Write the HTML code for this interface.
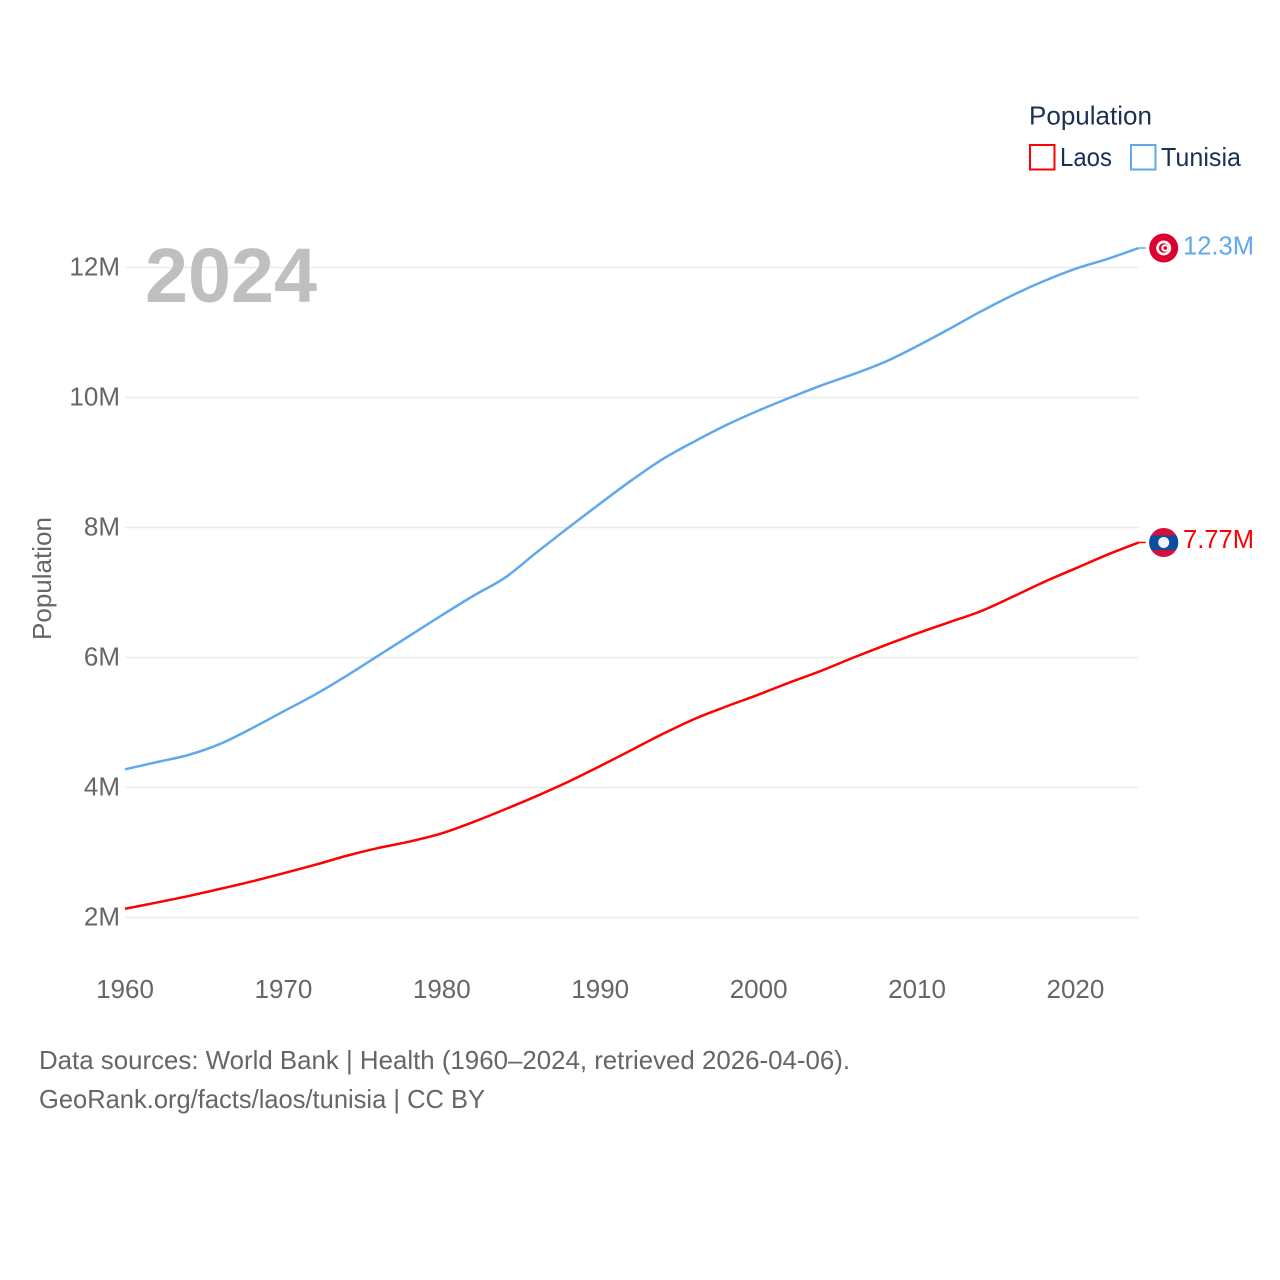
<!DOCTYPE html>
<html lang="en">
<head>
<meta charset="utf-8">
<title>Population: Laos and Tunisia</title>
<style>
  html, body { margin: 0; padding: 0; background: #ffffff; }
  svg { display: block; }
  text { font-family: "Liberation Sans", "DejaVu Sans", sans-serif; font-size: 26px; fill: #666666; }
  .legend-text { fill: #1b3154; }
</style>
</head>
<body>
<svg id="chart" xmlns="http://www.w3.org/2000/svg" width="1280" height="1280" viewBox="0 0 1280 1280">
  <rect x="0" y="0" width="1280" height="1280" fill="#ffffff"/>
  <g id="grid"></g>
  <g id="yticks"></g>
  <g id="xticks"></g>
  <text x="145" y="302" textLength="172" lengthAdjust="spacingAndGlyphs" style="font-size:77px;font-weight:bold;fill:#bfbfbf">2024</text>
  <text transform="translate(51,640) rotate(-90)" textLength="123" lengthAdjust="spacingAndGlyphs">Population</text>
  <g id="series"></g>
  <defs>
    <clipPath id="clip-la"><circle cx="0" cy="0" r="14.5"/></clipPath>
  </defs>
  <g id="flag-tunisia">
    <circle r="14.5" fill="#dc0030"/>
    <circle r="7.5" fill="#f4f4f4"/>
    <circle r="4.8" fill="#dc0030"/>
    <circle cx="1.3" r="3.8" fill="#f4f4f4"/>
    <circle cx="1.6" r="1.8" fill="#dc0030"/>
  </g>
  <g id="flag-laos">
    <g clip-path="url(#clip-la)">
      <rect x="-15" y="-15" width="30" height="30" fill="#d2103a"/>
      <rect x="-15" y="-7" width="30" height="14.5" fill="#0a4ea2"/>
    </g>
    <circle r="5.5" fill="#f2f2f2"/>
  </g>
  <g id="end-labels"></g>
  <g>
    <text class="legend-text" x="1029" y="124.5" textLength="123" lengthAdjust="spacingAndGlyphs">Population</text>
    <rect x="1030" y="145" width="24.5" height="24.5" fill="none" stroke="#ff0000" stroke-width="2"/>
    <text class="legend-text" x="1060" y="166" textLength="52" lengthAdjust="spacingAndGlyphs">Laos</text>
    <rect x="1131" y="145" width="24.5" height="24.5" fill="none" stroke="#5fa8ec" stroke-width="2"/>
    <text class="legend-text" x="1161" y="166" textLength="80" lengthAdjust="spacingAndGlyphs">Tunisia</text>
  </g>
  <text x="39" y="1069" textLength="811" lengthAdjust="spacingAndGlyphs">Data sources: World Bank | Health (1960–2024, retrieved 2026-04-06).</text>
  <text x="39" y="1108" textLength="446" lengthAdjust="spacingAndGlyphs">GeoRank.org/facts/laos/tunisia | CC BY</text>
</svg>
<script>
const years = [1960,1962,1964,1966,1968,1970,1972,1974,1976,1978,1980,1982,1984,1986,1988,1990,1992,1994,1996,1998,2000,2002,2004,2006,2008,2010,2012,2014,2016,2018,2020,2022,2024];
const tunisiaValues = [4.28,4.39,4.50,4.67,4.91,5.17,5.43,5.72,6.03,6.34,6.65,6.95,7.23,7.62,8.00,8.37,8.73,9.06,9.33,9.58,9.80,10.00,10.19,10.36,10.55,10.79,11.05,11.32,11.57,11.79,11.98,12.13,12.30];
const laosValues = [2.135,2.23,2.33,2.44,2.555,2.68,2.81,2.95,3.07,3.17,3.295,3.47,3.665,3.87,4.09,4.33,4.58,4.83,5.06,5.25,5.43,5.62,5.80,6.00,6.19,6.37,6.54,6.71,6.93,7.16,7.37,7.58,7.77];
const yTickValues = [2,4,6,8,10,12];
const yTickLabels = ['2M','4M','6M','8M','10M','12M'];
const xTickValues = [1960,1970,1980,1990,2000,2010,2020];
const xTickLabels = ['1960','1970','1980','1990','2000','2010','2020'];
const endLabelTunisia = '12.3M';
const endLabelLaos = '7.77M';

const NS = 'http://www.w3.org/2000/svg';
const xScale = function (year) { return 125 + (year - 1960) * (1138.8 - 125) / 64; };
const yScale = function (v) { return 917.5 - (v - 2) * 65; };

function curvePath(xs, ys) {
  const pts = xs.map(function (x, i) { return [xScale(x), yScale(ys[i])]; });
  let d = 'M' + pts[0][0].toFixed(2) + ' ' + pts[0][1].toFixed(2);
  for (let i = 0; i < pts.length - 1; i++) {
    const p0 = pts[Math.max(i - 1, 0)];
    const p1 = pts[i];
    const p2 = pts[i + 1];
    const p3 = pts[Math.min(i + 2, pts.length - 1)];
    const c1x = p1[0] + (p2[0] - p0[0]) / 6;
    const c1y = p1[1] + (p2[1] - p0[1]) / 6;
    const c2x = p2[0] - (p3[0] - p1[0]) / 6;
    const c2y = p2[1] - (p3[1] - p1[1]) / 6;
    d += 'C' + c1x.toFixed(2) + ' ' + c1y.toFixed(2) + ' ' + c2x.toFixed(2) + ' ' + c2y.toFixed(2) + ' ' + p2[0].toFixed(2) + ' ' + p2[1].toFixed(2);
  }
  return d;
}

const grid = document.getElementById('grid');
const yticks = document.getElementById('yticks');
yTickValues.forEach(function (v, i) {
  const line = document.createElementNS(NS, 'line');
  
  
  line.setAttribute('x1', xScale(1960));
  line.setAttribute('x2', xScale(2024));
  line.setAttribute('y1', yScale(v));
  line.setAttribute('y2', yScale(v));
  line.setAttribute('stroke', '#ebebeb');
  line.setAttribute('stroke-width', '1.5');
  grid.appendChild(line);
  const label = document.createElementNS(NS, 'text');
  
  
  label.setAttribute('x', 120);
  label.setAttribute('y', yScale(v) + 8);
  label.setAttribute('text-anchor', 'end');
  label.textContent = yTickLabels[i];
  yticks.appendChild(label);
});

const xticks = document.getElementById('xticks');
xTickValues.forEach(function (year, i) {
  const label = document.createElementNS(NS, 'text');
  
  
  label.setAttribute('x', xScale(year));
  label.setAttribute('y', 998);
  label.setAttribute('text-anchor', 'middle');
  label.textContent = xTickLabels[i];
  xticks.appendChild(label);
});

const series = document.getElementById('series');
function drawSeries(values, color, name) {
  const path = document.createElementNS(NS, 'path');
  
  
  path.setAttribute('d', curvePath(years, values));
  path.setAttribute('fill', 'none');
  path.setAttribute('stroke', color);
  path.setAttribute('stroke-width', '2.5');
  series.appendChild(path);
  const lastY = yScale(values[values.length - 1]);
  const lastX = xScale(years[years.length - 1]);
  const stub = document.createElementNS(NS, 'line');
  
  
  stub.setAttribute('x1', lastX);
  stub.setAttribute('x2', lastX + 7);
  stub.setAttribute('y1', lastY);
  stub.setAttribute('y2', lastY);
  stub.setAttribute('stroke', color);
  stub.setAttribute('stroke-width', '1.5');
  series.appendChild(stub);
}
drawSeries(laosValues, '#ff0000', 'laos');
drawSeries(tunisiaValues, '#5fa8ec', 'tunisia');

function placeEnd(flagId, values, text, color, name, labelShift) {
  const y = yScale(values[values.length - 1]);
  document.getElementById(flagId).setAttribute('transform', 'translate(1163.7,' + y.toFixed(2) + ')');
  const label = document.createElementNS(NS, 'text');
  
  
  label.setAttribute('x', 1183);
  label.setAttribute('y', y + labelShift);
  label.setAttribute('textLength', 71);
  label.setAttribute('lengthAdjust', 'spacingAndGlyphs');
  label.setAttribute('style', 'fill:' + color);
  label.textContent = text;
  document.getElementById('end-labels').appendChild(label);
}
placeEnd('flag-tunisia', tunisiaValues, endLabelTunisia, '#5fa8ec', 'tunisia', 6.5);
placeEnd('flag-laos', laosValues, endLabelLaos, '#ff0000', 'laos', 5.5);
</script>
</body>
</html>
